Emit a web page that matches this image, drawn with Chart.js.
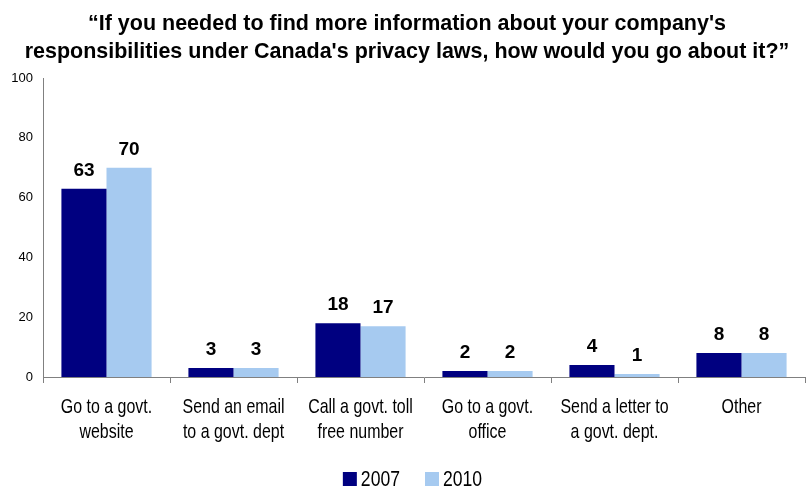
<!DOCTYPE html>
<html>
<head>
<meta charset="utf-8">
<script src="https://cdn.jsdelivr.net/npm/chart.js@4/dist/chart.umd.min.js"></script>
<style>
  html, body { margin: 0; padding: 0; background: #ffffff; }
  #wrap { width: 811px; height: 491px; position: relative; }
</style>
</head>
<body>
<div id="wrap"><canvas id="chart" width="811" height="491"></canvas></div>
<script>
const titleLines = [
  "\u201CIf you needed to find more information about your company's",
  "responsibilities under Canada's privacy laws, how would you go about it?\u201D"
];
const categories = [
  ["Go to a govt.", "website"],
  ["Send an email", "to a govt. dept"],
  ["Call a govt. toll", "free number"],
  ["Go to a govt.", "office"],
  ["Send a letter to", "a govt. dept."],
  ["Other"]
];
const seriesNames = ["2007", "2010"];
const values2007 = [63, 3, 18, 2, 4, 8];
const values2010 = [70, 3, 17, 2, 1, 8];
const yTicks = [0, 20, 40, 60, 80, 100];
const seriesColors = ['#000080', '#A6CAF0'];

const sans = "'Liberation Sans', Arial, sans-serif";

// Text squeezed horizontally to get a narrow typeface look
function narrowText(ctx, text, x, y, squeeze) {
  ctx.save();
  ctx.translate(x, y);
  ctx.scale(squeeze, 1);
  ctx.fillText(text, 0, 0);
  ctx.restore();
}

// Title, category labels, legend and value labels
const textLayer = {
  id: 'textLayer',
  afterDraw(chart) {
    const ctx = chart.ctx;
    const area = chart.chartArea;
    const xScale = chart.scales.x;
    ctx.save();
    ctx.fillStyle = '#000000';
    ctx.textAlign = 'center';
    ctx.textBaseline = 'alphabetic';

    // title
    ctx.font = 'bold 22px ' + sans;
    titleLines.forEach((line, i) => narrowText(ctx, line, 407, 30 + i * 28, 0.977));

    // category labels under the axis
    ctx.font = '21px ' + sans;
    ctx.textBaseline = 'middle';
    categories.forEach((lines, i) => {
      const x = xScale.getPixelForTick(i);
      lines.forEach((line, k) => narrowText(ctx, line, x, area.bottom + 30 + k * 25, 0.76));
    });

    // legend
    ctx.font = '22px ' + sans;
    ctx.textAlign = 'left';
    const squeeze = 0.8, box = 14, gap = 4, itemGap = 25, cy = 479;
    const widths = seriesNames.map(n => ctx.measureText(n).width * squeeze);
    const total = widths.reduce((s, w) => s + box + gap + w, 0) + itemGap * (seriesNames.length - 1);
    let x = chart.width / 2 + 7 - total / 2;
    seriesNames.forEach((name, i) => {
      ctx.fillStyle = seriesColors[i];
      ctx.fillRect(x, cy - box / 2, box, box);
      ctx.fillStyle = '#000000';
      narrowText(ctx, name, x + box + gap, cy + 1, squeeze);
      x += box + gap + widths[i] + itemGap;
    });
    ctx.restore();
  },
  afterDatasetsDraw(chart) {
    const ctx = chart.ctx;
    ctx.save();
    ctx.font = 'bold 19px ' + sans;
    ctx.fillStyle = '#000000';
    ctx.textAlign = 'center';
    ctx.textBaseline = 'alphabetic';
    chart.data.datasets.forEach((ds, i) => {
      chart.getDatasetMeta(i).data.forEach((bar, j) => {
        ctx.fillText(String(ds.data[j]), bar.x, bar.y - 13);
      });
    });
    ctx.restore();
  }
};

new Chart(document.getElementById('chart'), {
  type: 'bar',
  data: {
    labels: categories,
    datasets: [
      { label: seriesNames[0], data: values2007, backgroundColor: seriesColors[0],
        categoryPercentage: 0.71, barPercentage: 1.0 },
      { label: seriesNames[1], data: values2010, backgroundColor: seriesColors[1],
        categoryPercentage: 0.71, barPercentage: 1.0 }
    ]
  },
  options: {
    responsive: false,
    animation: false,
    devicePixelRatio: 1,
    layout: { padding: { left: 0, right: 6, top: 78, bottom: 0 } },
    plugins: {
      title: { display: false },
      legend: { display: false },
      tooltip: { enabled: false }
    },
    scales: {
      x: {
        afterFit(scale) { scale.height = 114; },
        grid: {
          display: true,
          drawOnChartArea: false,
          drawTicks: true,
          tickLength: 6,
          offset: true,
          color: '#808080'
        },
        border: { display: true, color: '#808080', width: 1 },
        ticks: { display: false, autoSkip: false }
      },
      y: {
        min: 0,
        max: 100,
        afterBuildTicks(scale) { scale.ticks = yTicks.map(v => ({ value: v })); },
        afterFit(scale) { scale.width = 43; },
        grid: { display: false, drawTicks: false },
        border: { display: true, color: '#808080', width: 1 },
        ticks: {
          color: '#000000',
          font: { family: sans, size: 13 },
          padding: 10
        }
      }
    }
  },
  plugins: [textLayer]
});
</script>
</body>
</html>
